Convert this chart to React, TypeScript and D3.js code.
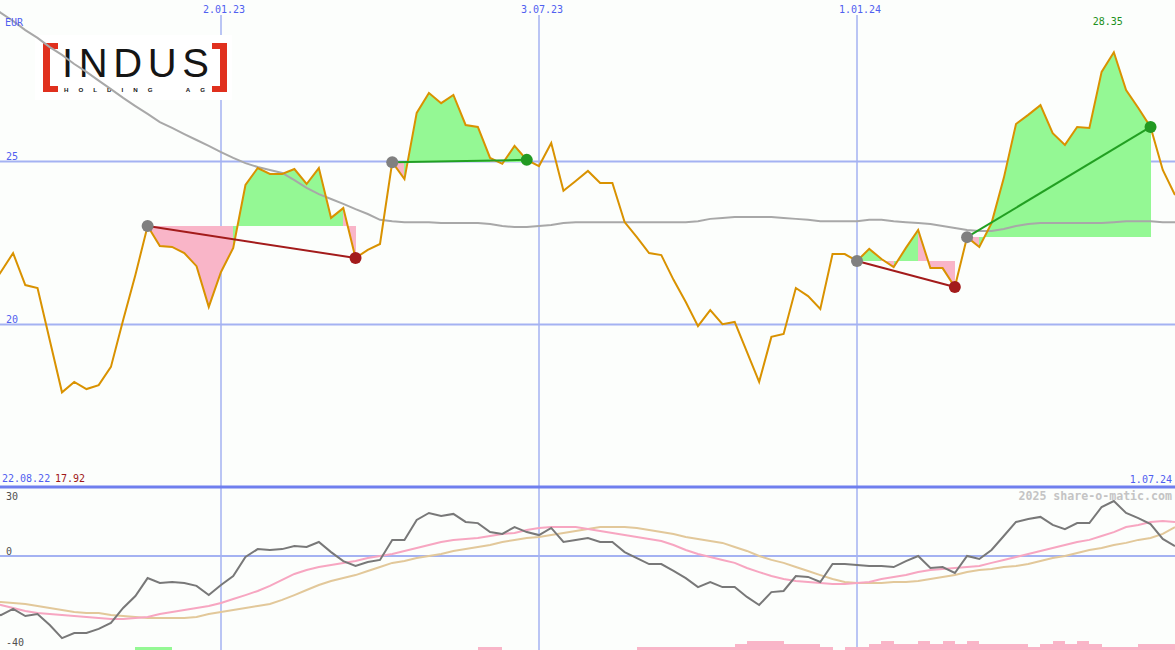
import * as d3 from 'd3';

const W = 1175;
const H = 650;

// weekly closes from 22.08.22 to 1.07.24
const startDay = '2022-08-22';
const price = [
  21.06, 21.61, 22.19, 21.21, 21.12, 19.52, 17.92, 18.24, 18.02, 18.14,
  18.70, 20.14, 21.52, 23.02, 22.41, 22.38, 22.19, 21.79, 20.54, 21.61,
  22.35, 24.28, 24.80, 24.62, 24.62, 24.77, 24.31, 24.80, 23.27, 23.57,
  22.04, 22.29, 22.47, 24.98, 24.46, 26.49, 27.10, 26.79, 27.04, 26.12,
  26.06, 25.11, 24.93, 25.48, 25.05, 24.86, 25.57, 24.10, 24.40, 24.71,
  24.34, 24.34, 23.14, 22.68, 22.19, 22.13, 21.37, 20.69, 19.95, 20.44,
  20.01, 20.08, 19.16, 18.24, 19.62, 19.71, 21.12, 20.87, 20.48, 22.16,
  22.16, 21.95, 22.32, 22.01, 21.76, 22.35, 22.90, 21.73, 21.73, 21.15,
  22.68, 22.38, 23.11, 24.49, 26.15, 26.43, 26.73, 25.87, 25.51, 26.06,
  26.03, 27.75, 28.35, 27.19, 26.64, 26.06, 24.74, 23.97,
];
// long moving average (gray)
const average = [
  29.83, 29.56, 29.31, 29.03, 28.79, 28.51, 28.27, 27.99, 27.75, 27.48,
  27.22, 26.95, 26.70, 26.46, 26.21, 26.03, 25.84, 25.66, 25.48, 25.29,
  25.11, 24.95, 24.83, 24.74, 24.65, 24.43, 24.19, 24.00, 23.85, 23.70,
  23.54, 23.39, 23.21, 23.17, 23.14, 23.14, 23.14, 23.11, 23.11, 23.11,
  23.11, 23.08, 23.02, 22.99, 22.99, 23.02, 23.05, 23.11, 23.14, 23.14,
  23.14, 23.14, 23.14, 23.14, 23.14, 23.14, 23.14, 23.14, 23.17, 23.24,
  23.27, 23.30, 23.30, 23.30, 23.30, 23.27, 23.24, 23.21, 23.17, 23.17,
  23.17, 23.17, 23.21, 23.21, 23.17, 23.14, 23.11, 23.08, 23.02, 22.96,
  22.90, 22.87, 22.87, 22.93, 23.02, 23.08, 23.11, 23.11, 23.11, 23.11,
  23.11, 23.11, 23.14, 23.17, 23.17, 23.17, 23.14, 23.14,
];
// lower panel
const momentum = [
  -24.3, -25.7, -23.0, -26.1, -25.2, -30.0, -35.7, -33.5, -33.5, -31.7,
  -29.1, -22.6, -17.4, -9.6, -11.7, -11.3, -11.7, -13.0, -17.0, -12.6,
  -8.7, -0.4, 3.0, 2.6, 3.0, 4.3, 3.9, 6.1, 1.7, -2.2,
  -4.3, -2.6, -1.7, 7.0, 7.0, 15.7, 18.7, 17.4, 18.3, 14.8,
  14.3, 10.4, 9.6, 12.6, 10.4, 9.1, 12.2, 6.1, 7.0, 7.8,
  6.1, 6.1, 1.7, -0.9, -3.5, -3.5, -6.5, -9.6, -13.5, -11.3,
  -13.5, -13.5, -17.8, -21.3, -15.7, -15.2, -8.7, -9.1, -11.3, -3.5,
  -3.5, -3.9, -4.3, -4.3, -4.8, -2.2, 0, -5.2, -4.8, -7.4,
  0, -1.3, 2.6, 8.7, 14.8, 16.1, 17.0, 13.5, 11.7, 14.3,
  14.3, 21.3, 23.9, 18.7, 16.5, 13.9, 7.4, 4.3,
];
const signalFast = [
  -20.4, -21.3, -22.6, -23.9, -24.8, -25.2, -25.7, -26.1, -26.5, -27.0,
  -27.4, -27.4, -27.0, -26.5, -25.2, -24.3, -23.5, -22.6, -21.7, -20.4,
  -18.7, -17.0, -15.2, -13.0, -10.4, -7.8, -6.1, -4.8, -3.9, -3.0,
  -2.2, -0.9, 0, 0.9, 2.2, 3.5, 4.8, 6.1, 7.0, 7.4,
  7.8, 8.7, 9.6, 10.0, 11.3, 12.2, 12.6, 12.6, 12.6, 11.7,
  10.9, 10.0, 9.1, 8.3, 7.4, 6.5, 4.8, 2.6, 0.9, -0.4,
  -1.7, -3.0, -5.2, -7.0, -8.7, -10.0, -10.9, -11.3, -11.7, -12.2,
  -12.2, -11.7, -11.3, -10.0, -9.1, -8.3, -7.0, -6.1, -5.7, -5.2,
  -4.8, -4.3, -3.0, -1.7, -0.4, 0.9, 2.2, 3.5, 4.8, 6.1,
  7.0, 8.7, 10.4, 12.6, 13.5, 14.8, 15.2, 14.8,
];
const signalSlow = [
  -20.0, -20.0, -20.4, -20.9, -21.7, -22.6, -23.5, -24.3, -24.8, -24.8,
  -25.7, -26.1, -26.5, -27.0, -27.0, -27.0, -27.0, -26.5, -25.2, -24.3,
  -23.5, -22.6, -21.7, -20.9, -19.1, -17.0, -14.8, -12.6, -10.9, -9.6,
  -8.3, -6.5, -4.8, -3.0, -2.2, -0.9, 0, 0.9, 2.2, 3.0,
  3.9, 4.8, 6.1, 7.0, 7.8, 8.3, 9.1, 10.0, 10.9, 11.7,
  12.6, 12.6, 12.6, 12.2, 11.3, 10.4, 9.6, 8.3, 7.4, 6.5,
  5.7, 3.9, 2.2, 0, -1.7, -3.0, -4.8, -6.5, -8.3, -10.0,
  -11.3, -11.7, -11.7, -11.7, -11.3, -11.3, -10.9, -10.0, -9.1, -8.3,
  -7.0, -6.1, -5.7, -4.8, -4.3, -3.5, -2.2, -0.9, 0, 1.3,
  2.6, 3.5, 4.8, 5.7, 7.0, 7.8, 9.6, 12.6,
];
// trend bars at the bottom: + green, - pink
const trendBars = [
  0, 0, 0, 0, 0, 0, 0, 0, 0, 0,
  0, 0, 1, 1, 1, 0, 0, 0, 0, 0,
  0, 0, 0, 0, 0, 0, 0, 0, 0, 0,
  0, 0, 0, 0, 0, 0, 0, 0, 0, 0,
  -1, -1, 0, 0, 0, 0, 0, 0, 0, 0,
  0, 0, 0, -1, -1, -1, -1, -1, -1, -1,
  -1, -2, -3, -3, -3, -2, -2, -2, -1, 0,
  -1, -1, -2, -3, -2, -2, -3, -2, -3, -2,
  -3, -2, -2, -2, -2, -1, -2, -3, -2, -3,
  -2, -1, -1, -1, -2, -2, -2, -2,
];
const tradeOpen = [13, 33, 71, 80];
const tradeClose = [30, 44, 79, 95];
const dateTicks = ['2023-01-02', '2023-07-03', '2024-01-01'];
const priceTicks = [25, 20];
const oscTicks = [30, 0, -40];

const GRID = '#a4b2f2';
const LABEL = '#5060f0';
const GREEN_FILL = '#94f894';
const PINK_FILL = '#f9b5c8';
const MONO = '"DejaVu Sans Mono", monospace';

const parse = (s: string) => new Date(s + 'T00:00:00Z');

export default function App() {
  const start = parse(startDay);
  const dates = price.map((_, i) => d3.utcDay.offset(start, 7 * i));

  const x = d3.scaleUtc()
    .domain([parse('2023-01-02'), parse('2024-01-01')])
    .range([221, 857]);
  const y = d3.scaleLinear().domain([20, 25]).range([324.5, 161.5]);
  const yo = d3.scaleLinear().domain([-40, 30]).range([648, 487]);
  const bh = d3.scaleLinear().domain([0, 3]).range([0, 9]);
  const fmt = d3.utcFormat('%-d.%m.%y');

  const priceLine = d3.line<number>().x((_, i) => x(dates[i])).y(d => y(d));
  const oscLine = d3.line<number>().x((_, i) => x(dates[i])).y(d => yo(d));

  const maxI = d3.maxIndex(price);
  const minI = d3.minIndex(price);

  // one quad per week between price and entry level, coloured by the week's close
  const fills: { d: string; c: string }[] = [];
  tradeOpen.forEach((o, k) => {
    const base = price[o];
    const seg = d3.area<number>()
      .x(i => x(dates[i]))
      .y0(y(base))
      .y1(i => y(price[i]));
    for (let i = o; i < tradeClose[k]; i++) {
      fills.push({ d: seg([i, i + 1]) || '', c: price[i + 1] >= base ? GREEN_FILL : PINK_FILL });
    }
  });

  const step = x(dates[1]) - x(dates[0]);

  return (
    <>
      <style>{'body{margin:0}'}</style>
      <svg width={W} height={H} style={{ display: 'block' }}>
        <rect width={W} height={H} fill="#fcfefc" />

        {/* grid */}
        {dateTicks.map(t => (
          <line key={t} x1={x(parse(t))} x2={x(parse(t))} y1={15} y2={H}
            stroke={GRID} strokeWidth={1.5} />
        ))}
        {priceTicks.map(v => (
          <line key={v} x1={0} x2={W} y1={y(v)} y2={y(v)} stroke={GRID} strokeWidth={2} />
        ))}
        <line x1={0} x2={W} y1={yo(0)} y2={yo(0)} stroke={GRID} strokeWidth={2} />
        <line x1={0} x2={W} y1={487} y2={487} stroke="#6f7fee" strokeWidth={3} />

        {/* logo */}
        <g>
          <rect x={35} y={35} width={197} height={65} fill="#ffffff" />
          <path d="M43,43H58V49H50V86H58V92H43Z" fill="#e0301e" />
          <path d="M227,43H212V49H220V86H212V92H227Z" fill="#e0301e" />
          <text x={62} y={77} fontFamily='"Liberation Sans", sans-serif' fontSize={40}
            textLength={147} lengthAdjust="spacing" fill="#151515">INDUS</text>
          <text x={64} y={92} fontFamily='"Liberation Sans", sans-serif' fontSize={6.2}
            fontWeight="bold" textLength={141} lengthAdjust="spacing" fill="#151515"
            style={{ whiteSpace: 'pre' }}>HOLDING  AG</text>
        </g>

        {/* trade fills */}
        {fills.map((f, i) => (
          <path key={i} d={f.d} fill={f.c} shapeRendering="crispEdges" />
        ))}

        <path d={priceLine(average) || ''} fill="none" stroke="#a8a8a8" strokeWidth={2} />
        <path d={priceLine(price) || ''} fill="none" stroke="#d99200" strokeWidth={2}
          strokeLinejoin="miter" />

        {tradeOpen.map((o, k) => {
          const c = tradeClose[k];
          const win = price[c] > price[o];
          return (
            <g key={o}>
              <line x1={x(dates[o])} y1={y(price[o])} x2={x(dates[c])} y2={y(price[c])}
                stroke={win ? '#22a022' : '#a31b1b'} strokeWidth={2} />
              <circle cx={x(dates[o])} cy={y(price[o])} r={6} fill="#808080" />
              <circle cx={x(dates[c])} cy={y(price[c])} r={6} fill={win ? '#229a22' : '#a31b1b'} />
            </g>
          );
        })}

        {/* lower panel */}
        {trendBars.map((v, i) => v === 0 ? null : (
          <rect key={i} x={x(dates[i])} y={H - bh(Math.abs(v))} width={step}
            height={bh(Math.abs(v))} fill={v > 0 ? GREEN_FILL : PINK_FILL}
            shapeRendering="crispEdges" />
        ))}
        <path d={oscLine(signalSlow) || ''} fill="none" stroke="#e2c89a" strokeWidth={2} />
        <path d={oscLine(signalFast) || ''} fill="none" stroke="#f7a6c1" strokeWidth={2} />
        <path d={oscLine(momentum) || ''} fill="none" stroke="#787878" strokeWidth={2} />

        {/* labels */}
        <g fontFamily={MONO} fontSize={10}>
          <text x={5} y={25.5} fill={LABEL}>EUR</text>
          {dateTicks.map(t => (
            <text key={t} x={x(parse(t)) + 3} y={13} textAnchor="middle" fill={LABEL}>
              {fmt(parse(t))}
            </text>
          ))}
          {priceTicks.map(v => (
            <text key={v} x={6} y={y(v) - 1.5} fill={LABEL}>{v}</text>
          ))}
          <text x={x(dates[maxI]) - 6} y={25} textAnchor="middle" fill="#209020">
            {price[maxI].toFixed(2)}
          </text>
          <text x={2} y={482} fill={LABEL}>{fmt(dates[0])}</text>
          <text x={55} y={482} fill="#a01818">{price[minI].toFixed(2)}</text>
          <text x={1172} y={483} textAnchor="end" fill={LABEL}>{fmt(dates[dates.length - 1])}</text>
          {oscTicks.map(v => (
            <text key={v} x={6} y={v === 30 ? yo(v) + 13 : yo(v) - (v === 0 ? 1 : 2)} fill="#505050">{v}</text>
          ))}
          <text x={1172} y={500} textAnchor="end" fontSize={11.6} fontWeight="bold" fill="#c4c4c4">
            2025 share-o-matic.com
          </text>
        </g>
      </svg>
    </>
  );
}
